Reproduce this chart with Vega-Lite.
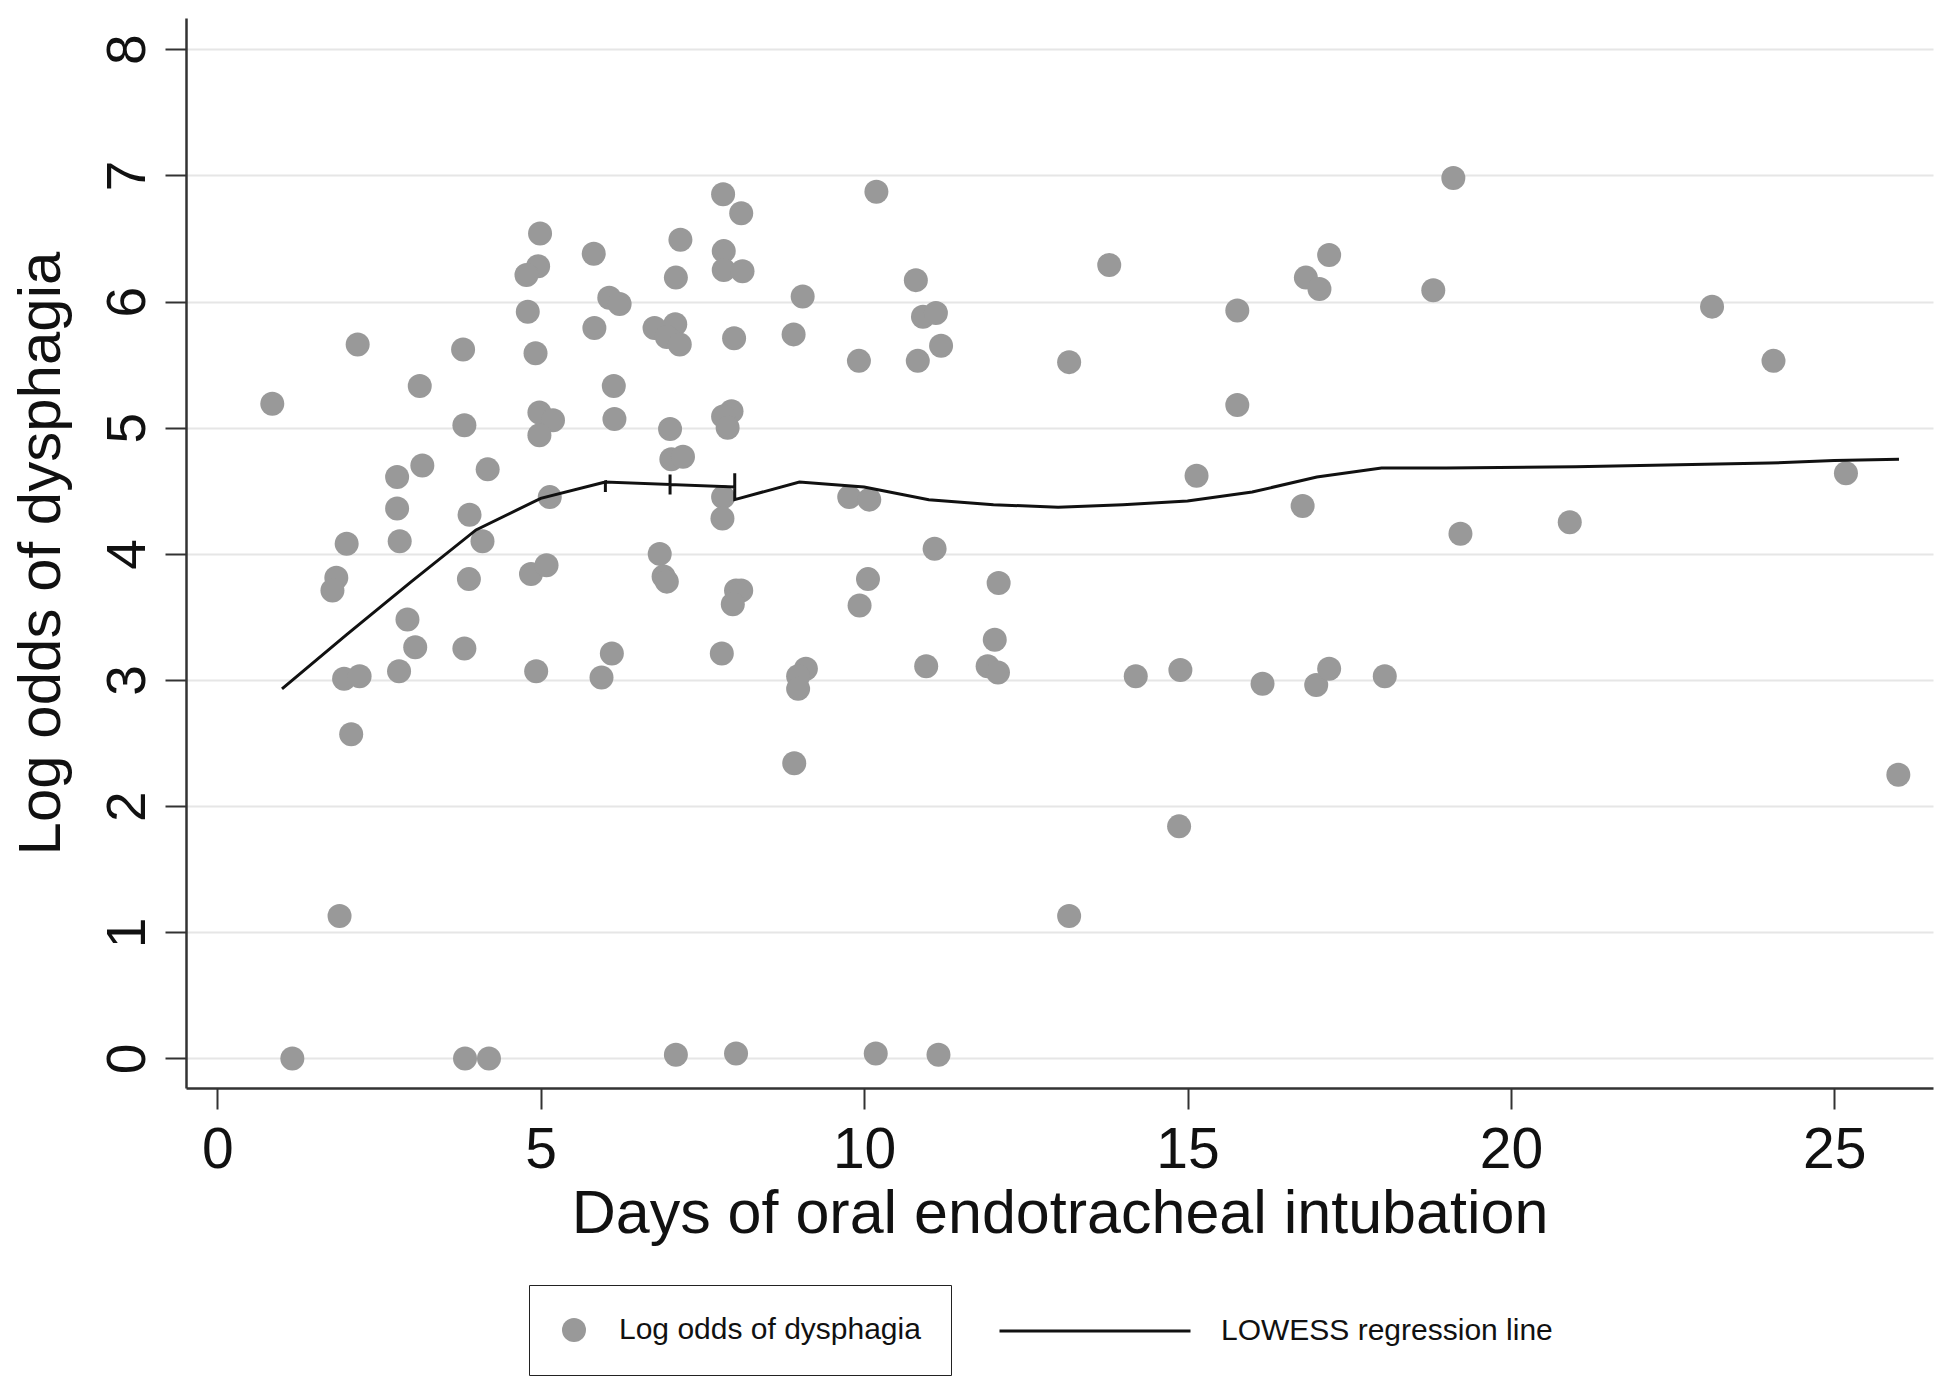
{
  "$schema": "https://vega.github.io/schema/vega-lite/v6.json",
  "width": 1747,
  "height": 1070,
  "autosize": {"type": "none"},
  "padding": {"left": 186, "top": 18, "right": 17, "bottom": 309},
  "background": "white",
  "config": {
    "view": {"stroke": null},
    "font": "Liberation Sans"
  },
  "datasets": {
    "pts": [
      {"days": 0.85, "logodds": 5.19}, {"days": 1.16, "logodds": 0.0}, {"days": 1.84, "logodds": 3.81}, {"days": 1.78, "logodds": 3.71},
      {"days": 1.89, "logodds": 1.13}, {"days": 1.96, "logodds": 3.01}, {"days": 2.2, "logodds": 3.03}, {"days": 2.0, "logodds": 4.08},
      {"days": 2.07, "logodds": 2.57}, {"days": 2.17, "logodds": 5.66}, {"days": 2.78, "logodds": 4.61}, {"days": 2.78, "logodds": 4.36},
      {"days": 2.82, "logodds": 4.1}, {"days": 2.81, "logodds": 3.07}, {"days": 2.94, "logodds": 3.48}, {"days": 3.06, "logodds": 3.26},
      {"days": 3.13, "logodds": 5.33}, {"days": 3.17, "logodds": 4.7},
      {"days": 3.8, "logodds": 5.62}, {"days": 3.82, "logodds": 5.02}, {"days": 3.82, "logodds": 3.25}, {"days": 3.83, "logodds": 0.0},
      {"days": 3.9, "logodds": 4.31}, {"days": 3.89, "logodds": 3.8}, {"days": 4.1, "logodds": 4.1}, {"days": 4.18, "logodds": 4.67},
      {"days": 4.2, "logodds": 0.0},
      {"days": 4.99, "logodds": 6.54}, {"days": 4.96, "logodds": 6.28}, {"days": 4.78, "logodds": 6.21}, {"days": 4.8, "logodds": 5.92},
      {"days": 4.92, "logodds": 5.59}, {"days": 4.98, "logodds": 5.12}, {"days": 5.19, "logodds": 5.06}, {"days": 4.98, "logodds": 4.94},
      {"days": 4.85, "logodds": 3.84}, {"days": 5.09, "logodds": 3.91}, {"days": 4.93, "logodds": 3.07}, {"days": 5.14, "logodds": 4.45},
      {"days": 5.82, "logodds": 6.38}, {"days": 5.83, "logodds": 5.79}, {"days": 6.06, "logodds": 6.03}, {"days": 6.22, "logodds": 5.98},
      {"days": 6.13, "logodds": 5.33}, {"days": 6.14, "logodds": 5.07}, {"days": 5.94, "logodds": 3.02}, {"days": 6.1, "logodds": 3.21},
      {"days": 6.76, "logodds": 5.79}, {"days": 7.08, "logodds": 5.82}, {"days": 6.95, "logodds": 5.72}, {"days": 7.15, "logodds": 5.66},
      {"days": 7.16, "logodds": 6.49}, {"days": 7.09, "logodds": 6.19}, {"days": 7.0, "logodds": 4.99}, {"days": 7.02, "logodds": 4.75},
      {"days": 7.2, "logodds": 4.77}, {"days": 6.84, "logodds": 4.0}, {"days": 6.9, "logodds": 3.82}, {"days": 6.95, "logodds": 3.78},
      {"days": 7.09, "logodds": 0.03},
      {"days": 7.82, "logodds": 6.85}, {"days": 8.1, "logodds": 6.7}, {"days": 7.83, "logodds": 6.4}, {"days": 7.83, "logodds": 6.25},
      {"days": 8.12, "logodds": 6.24}, {"days": 7.99, "logodds": 5.71}, {"days": 7.95, "logodds": 5.13}, {"days": 7.82, "logodds": 5.09},
      {"days": 7.89, "logodds": 5.0}, {"days": 7.82, "logodds": 4.45}, {"days": 7.81, "logodds": 4.28}, {"days": 8.02, "logodds": 3.71},
      {"days": 8.1, "logodds": 3.71}, {"days": 7.97, "logodds": 3.6}, {"days": 7.8, "logodds": 3.21}, {"days": 8.02, "logodds": 0.04},
      {"days": 8.91, "logodds": 5.74}, {"days": 9.05, "logodds": 6.04}, {"days": 9.1, "logodds": 3.09}, {"days": 8.98, "logodds": 3.03},
      {"days": 8.98, "logodds": 2.93}, {"days": 8.92, "logodds": 2.34},
      {"days": 10.19, "logodds": 6.87}, {"days": 9.92, "logodds": 5.53}, {"days": 9.77, "logodds": 4.45}, {"days": 10.08, "logodds": 4.43},
      {"days": 10.06, "logodds": 3.8}, {"days": 9.93, "logodds": 3.59}, {"days": 10.18, "logodds": 0.04},
      {"days": 10.8, "logodds": 6.17}, {"days": 10.91, "logodds": 5.88}, {"days": 11.11, "logodds": 5.91}, {"days": 11.19, "logodds": 5.65},
      {"days": 10.83, "logodds": 5.53}, {"days": 11.09, "logodds": 4.04}, {"days": 10.96, "logodds": 3.11}, {"days": 11.15, "logodds": 0.03},
      {"days": 12.08, "logodds": 3.77}, {"days": 12.02, "logodds": 3.32}, {"days": 11.91, "logodds": 3.11}, {"days": 12.07, "logodds": 3.06},
      {"days": 13.79, "logodds": 6.29}, {"days": 13.17, "logodds": 5.52}, {"days": 13.17, "logodds": 1.13}, {"days": 14.2, "logodds": 3.03},
      {"days": 14.89, "logodds": 3.08}, {"days": 14.87, "logodds": 1.84}, {"days": 15.14, "logodds": 4.62}, {"days": 15.77, "logodds": 5.93},
      {"days": 15.77, "logodds": 5.18}, {"days": 16.16, "logodds": 2.97}, {"days": 16.78, "logodds": 4.38}, {"days": 16.83, "logodds": 6.19},
      {"days": 17.04, "logodds": 6.1}, {"days": 17.19, "logodds": 6.37}, {"days": 16.99, "logodds": 2.96}, {"days": 17.19, "logodds": 3.09},
      {"days": 18.05, "logodds": 3.03}, {"days": 18.8, "logodds": 6.09}, {"days": 19.11, "logodds": 6.98}, {"days": 19.22, "logodds": 4.16},
      {"days": 20.91, "logodds": 4.25}, {"days": 23.11, "logodds": 5.96}, {"days": 24.06, "logodds": 5.53}, {"days": 25.18, "logodds": 4.64},
      {"days": 25.99, "logodds": 2.25}
    ],
    "fit": [
      {"ord": 1, "days": 1, "fit": 2.93}, {"ord": 2, "days": 2, "fit": 3.36}, {"ord": 3, "days": 3, "fit": 3.78},
      {"ord": 4, "days": 4, "fit": 4.19}, {"ord": 5, "days": 5, "fit": 4.44}, {"ord": 6, "days": 6, "fit": 4.57},
      {"ord": 7, "days": 6, "fit": 4.49}, {"ord": 8, "days": 6, "fit": 4.57}, {"ord": 9, "days": 7, "fit": 4.55},
      {"ord": 10, "days": 7, "fit": 4.63}, {"ord": 11, "days": 7, "fit": 4.47}, {"ord": 12, "days": 7, "fit": 4.55},
      {"ord": 13, "days": 8, "fit": 4.53}, {"ord": 14, "days": 8, "fit": 4.64}, {"ord": 15, "days": 8, "fit": 4.43},
      {"ord": 16, "days": 9, "fit": 4.57}, {"ord": 17, "days": 10, "fit": 4.53}, {"ord": 18, "days": 11, "fit": 4.43},
      {"ord": 19, "days": 12, "fit": 4.39}, {"ord": 20, "days": 13, "fit": 4.37}, {"ord": 21, "days": 14, "fit": 4.39},
      {"ord": 22, "days": 15, "fit": 4.42}, {"ord": 23, "days": 16, "fit": 4.49}, {"ord": 24, "days": 17, "fit": 4.61},
      {"ord": 25, "days": 18, "fit": 4.68}, {"ord": 26, "days": 19, "fit": 4.68}, {"ord": 27, "days": 21, "fit": 4.69},
      {"ord": 28, "days": 23, "fit": 4.71}, {"ord": 29, "days": 24, "fit": 4.72}, {"ord": 30, "days": 25, "fit": 4.74},
      {"ord": 31, "days": 26, "fit": 4.75}
    ]
  },
  "layer": [
    {
      "data": {"name": "pts"},
      "mark": {"type": "point", "shape": "circle", "filled": true, "size": 576, "opacity": 1, "strokeWidth": 0},
      "encoding": {
        "x": {
          "field": "days", "type": "quantitative",
          "scale": {"domain": [-0.484, 26.526], "nice": false, "zero": false},
          "axis": {
            "values": [0, 5, 10, 15, 20, 25], "format": "d", "grid": false,
            "tickSize": 21, "tickWidth": 2, "tickColor": "#333333",
            "domainColor": "#333333", "domainWidth": 2.5,
            "labelFontSize": 57, "labelPadding": 13, "labelColor": "#111111", "labelFlush": false, "labelOverlap": false,
            "title": "Days of oral endotracheal intubation", "titleFontSize": 61, "titleFontWeight": "normal",
            "titleColor": "#111111", "titleY": 144, "titleBaseline": "alphabetic"
          }
        },
        "y": {
          "field": "logodds", "type": "quantitative",
          "scale": {"domain": [-0.234, 8.248], "nice": false, "zero": false},
          "axis": {
            "values": [0, 1, 2, 3, 4, 5, 6, 7, 8], "format": "d", "grid": true, "gridColor": "#e6e6e6", "gridWidth": 2,
            "tickSize": 21, "tickWidth": 2, "tickColor": "#333333",
            "domainColor": "#333333", "domainWidth": 2.5,
            "labelFontSize": 55, "labelAngle": -90, "labelAlign": "center", "labelBaseline": "alphabetic",
            "labelPadding": 21, "labelColor": "#111111", "labelOverlap": false, "labelFlush": false,
            "title": "Log odds of dysphagia", "titleFontSize": 60, "titleFontWeight": "normal", "titleColor": "#111111",
            "titleAngle": -90, "titleX": -127, "titleY": 535, "titleAlign": "center", "titleBaseline": "alphabetic"
          }
        },
        "color": {
          "datum": "Log odds of dysphagia", "type": "nominal",
          "scale": {"domain": ["Log odds of dysphagia"], "range": ["#999999"]},
          "legend": {
            "orient": "none", "legendX": 343, "legendY": 1267, "direction": "horizontal",
            "title": null, "strokeColor": "#222222", "padding": 30,
            "symbolSize": 576, "symbolType": "circle", "symbolStrokeWidth": 0, "symbolOpacity": 1,
            "labelFontSize": 30, "labelFont": "Liberation Sans",
            "labelColor": "#111111", "labelOffset": 30, "labelLimit": 2000,
            "encode": {
              "legend": {"strokeWidth": {"value": 2}},
              "labels": {
                "text": {"value": "Log odds of dysphagia\u00a0\u00a0\u00a0\u00a0\u00a0\u00a0\u00a0\u00a0\u00a0\u00a0\u00a0\u00a0\u00a0\u00a0\u00a0\u00a0\u00a0\u00a0\u00a0\u00a0\u00a0\u00a0\u00a0\u00a0\u00a0\u00a0\u00a0\u00a0\u00a0\u00a0\u00a0\u00a0\u00a0\u00a0\u00a0\u00a0\u00a0\u00a0\u00a0\u00a0\u00a0\u00a0\u00a0\u00a0\u00a0\u00a0\u00a0\u00a0\u00a0\u00a0\u00a0\u00a0\u00a0\u00a0\u00a0\u00a0\u00a0\u00a0\u00a0\u00a0\u00a0\u00a0\u00a0\u00a0\u00a0\u00a0\u00a0\u00a0\u00a0\u00a0\u00a0\u00a0\u00a0\u00a0\u00a0\u00a0\u00a0"}
              }
            }
          }
        }
      }
    },
    {
      "data": {"name": "fit"},
      "mark": {"type": "line", "strokeWidth": 3},
      "encoding": {
        "x": {"field": "days", "type": "quantitative"},
        "y": {"field": "fit", "type": "quantitative"},
        "order": {"field": "ord", "type": "quantitative"},
        "stroke": {
          "datum": "LOWESS regression line", "type": "nominal",
          "scale": {"domain": ["LOWESS regression line"], "range": ["#111111"]},
          "legend": {
            "orient": "none", "legendX": 812, "legendY": 1216, "direction": "horizontal",
            "title": null, "padding": 0,
            "symbolType": "stroke", "symbolSize": 36481, "symbolStrokeWidth": 3, "symbolOpacity": 1,
            "labelFontSize": 30, "labelFont": "Liberation Sans",
            "labelColor": "#111111", "labelOffset": 29, "labelLimit": 2000
          }
        }
      }
    }
  ]
}
